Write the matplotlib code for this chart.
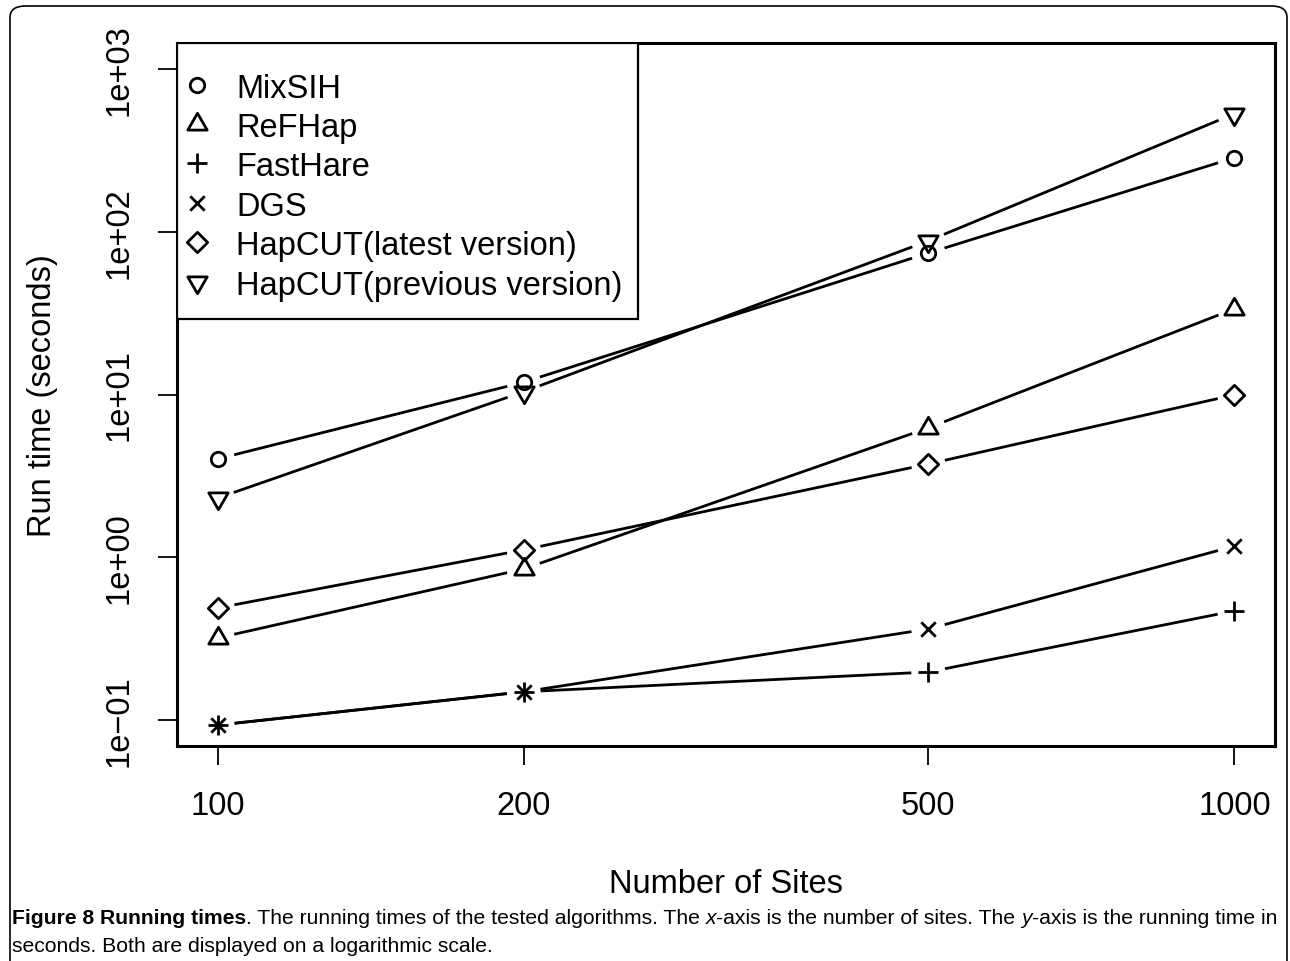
import numpy as np
import matplotlib
matplotlib.use("Agg")
import matplotlib.pyplot as plt
from matplotlib.path import Path
from matplotlib.patches import FancyBboxPatch, Rectangle

# ---- data -------------------------------------------------------------
sites = [100, 200, 500, 1000]
mixsih = [4.02, 11.9, 74.0, 285.0]
refhap = [0.319, 0.847, 6.23, 33.6]
fasthare = [0.093, 0.149, 0.197, 0.468]
dgs = [0.093, 0.149, 0.362, 1.17]
hapcut_latest = [0.488, 1.11, 3.74, 9.95]
hapcut_previous = [2.31, 10.4, 87.9, 531.0]

series_names = ["MixSIH", "ReFHap", "FastHare", "DGS",
                "HapCUT(latest version)", "HapCUT(previous version)"]
y_ticks = [0.1, 1, 10, 100, 1000]
y_tick_labels = ["1e\u221201", "1e+00", "1e+01", "1e+02", "1e+03"]
x_tick_labels = ["100", "200", "500", "1000"]
x_label = "Number of Sites"
y_label = "Run time (seconds)"
caption_runs = [
    ("Figure 8 Running times", "bold"),
    (". The running times of the tested algorithms. The ", "normal"),
    ("x", "italic"),
    ("-axis is the number of sites. The ", "normal"),
    ("y", "italic"),
    ("-axis is the running time in", "normal"),
]
caption_line2 = "seconds. Both are displayed on a logarithmic scale."

# ---- figure setup -----------------------------------------------------
W, H, DPI = 1290, 962, 100
plt.rcParams['font.family'] = ['Liberation Sans', 'DejaVu Sans']
FS = 23.5
LW = 2.0

fig = plt.figure(figsize=(W / DPI, H / DPI), dpi=DPI)
ax_l, ax_r, ax_t, ax_b = 177, 1275, 44, 747
ax = fig.add_axes([ax_l / W, 1 - ax_b / H, (ax_r - ax_l) / W, (ax_b - ax_t) / H])
ax.set_xscale('log')
ax.set_yscale('log')


def r_range(lo, hi):
    """Log-axis range padded by 4% on each side."""
    a, b = np.log10(lo), np.log10(hi)
    d = 0.04 * (b - a)
    return 10 ** (a - d), 10 ** (b + d)


ax.set_xlim(*r_range(min(sites), max(sites)))
ax.set_ylim(*r_range(min(y_ticks), max(y_ticks)))

ax.set_xticks(sites)
ax.set_xticklabels(x_tick_labels)
ax.set_yticks(y_ticks)
ax.set_yticklabels(y_tick_labels, rotation=90, va='center')
ax.minorticks_off()
ax.tick_params(axis='both', which='major', direction='out', length=13.5,
               width=1.3, labelsize=FS, color='black')
ax.tick_params(axis='x', pad=18)
ax.tick_params(axis='y', pad=17)
for sp in ax.spines.values():
    sp.set_linewidth(2.2)

ax.set_xlabel(x_label, fontsize=FS)
ax.xaxis.set_label_coords(0.5, (H - 869 - (H - ax_b)) / (ax_b - ax_t))
ax.set_ylabel(y_label, fontsize=FS)
ax.yaxis.set_label_coords((58 - ax_l) / (ax_r - ax_l), 0.5)

# ---- marker shapes (sizes in units of the circle radius) ------------
R_PX = 7.2


def path_marker(verts, codes):
    verts = np.asarray(verts, float)
    return Path(verts, codes), np.max(np.abs(verts))


tri_up = path_marker([(0, 1.5551), (1.3468, -0.7776), (-1.3468, -0.7776), (0, 1.5551)],
                     [Path.MOVETO, Path.LINETO, Path.LINETO, Path.CLOSEPOLY])
tri_down = path_marker([(0, -1.5551), (1.3468, 0.7776), (-1.3468, 0.7776), (0, -1.5551)],
                       [Path.MOVETO, Path.LINETO, Path.LINETO, Path.CLOSEPOLY])
plus = path_marker([(-1.414, 0), (1.414, 0), (0, -1.414), (0, 1.414)],
                   [Path.MOVETO, Path.LINETO, Path.MOVETO, Path.LINETO])
cross = path_marker([(-1, -1), (1, 1), (-1, 1), (1, -1)],
                    [Path.MOVETO, Path.LINETO, Path.MOVETO, Path.LINETO])
diamond = path_marker([(0, 1.414), (1.414, 0), (0, -1.414), (-1.414, 0), (0, 1.414)],
                      [Path.MOVETO, Path.LINETO, Path.LINETO, Path.LINETO, Path.CLOSEPOLY])
circle = ('o', 1.0)

markers = [circle, tri_up, plus, cross, diamond, tri_down]
series = [mixsih, refhap, fasthare, dgs, hapcut_latest, hapcut_previous]


def marker_kw(m):
    shape, ext = m
    ms = 2 * ext * R_PX * 72 / DPI
    return dict(marker=shape, markersize=ms, markerfacecolor='none',
                markeredgecolor='black', markeredgewidth=LW, linestyle='none')


GAP = 17.0  # gap (px) between a line segment and the point symbols


def gapped_line(xs, ys):
    pts = ax.transData.transform(np.column_stack([xs, ys]))
    inv = ax.transData.inverted()
    for p0, p1 in zip(pts[:-1], pts[1:]):
        d = p1 - p0
        L = np.hypot(*d)
        if L <= 2 * GAP:
            continue
        u = d / L
        a = inv.transform(p0 + u * GAP)
        b = inv.transform(p1 - u * GAP)
        ax.plot([a[0], b[0]], [a[1], b[1]], color='black', lw=LW,
                solid_capstyle='butt')


for ys, m in zip(series, markers):
    gapped_line(sites, ys)
    ax.plot(sites, ys, **marker_kw(m), clip_on=False)

# ---- legend box ------------------------------------------------------
def ax_coords(px, py):
    return (px - ax_l) / (ax_r - ax_l), (ax_b - py) / (ax_b - ax_t)


x0, y0 = ax_coords(ax_l, 320)
x1, y1 = ax_coords(638, ax_t)
ax.add_patch(Rectangle((x0, y0), x1 - x0, y1 - y0, transform=ax.transAxes,
                       facecolor='white', edgecolor='black', lw=1.6, zorder=5))
row0, step = 85.5, 39.4
for i, (name, m) in enumerate(zip(series_names, markers)):
    py = row0 + i * step
    mx, my = ax_coords(197, py)
    ax.plot([mx], [my], transform=ax.transAxes, zorder=6, clip_on=False, **marker_kw(m))
    tx, ty = ax_coords(236, py)
    ax.text(tx, ty, name, transform=ax.transAxes, fontsize=FS, ha='left',
            va='center_baseline', zorder=6)

# ---- outer frame -------------------------------------------------------
frame = FancyBboxPatch((10 / W, -0.05), (1287 - 10) / W, (H - 7) / H + 0.05,
                       boxstyle="round,pad=0,rounding_size=0.012",
                       transform=fig.transFigure, fill=False, edgecolor='black',
                       lw=1.2, clip_on=False)
fig.patches.append(frame)

# ---- caption -------------------------------------------------------------
cap_family = ['DejaVu Sans Condensed', 'Liberation Sans Narrow', 'Liberation Sans']
renderer = fig.canvas.get_renderer()


def run_width(text, style, size):
    kw = dict(fontsize=size, family=cap_family,
              fontweight='bold' if style == 'bold' else 'normal',
              fontstyle='italic' if style == 'italic' else 'normal')
    t1 = fig.text(0, 0, "|" + text + "|", **kw)
    t2 = fig.text(0, 0, "||", **kw)
    w = t1.get_window_extent(renderer).width - t2.get_window_extent(renderer).width
    t1.remove()
    t2.remove()
    return w


base_size = 12.0
total = sum(run_width(t, s, base_size) for t, s in caption_runs)
cap_size = base_size * (1280 - 12) / total

x = 12.0
for text, style in caption_runs:
    fig.text(x / W, 1 - 924 / H, text, fontsize=cap_size, family=cap_family,
             fontweight='bold' if style == 'bold' else 'normal',
             fontstyle='italic' if style == 'italic' else 'normal',
             ha='left', va='baseline')
    x += run_width(text, style, cap_size)
fig.text(12 / W, 1 - 952 / H, caption_line2, fontsize=cap_size, family=cap_family,
         ha='left', va='baseline')

fig.savefig("out.png", dpi=DPI)
